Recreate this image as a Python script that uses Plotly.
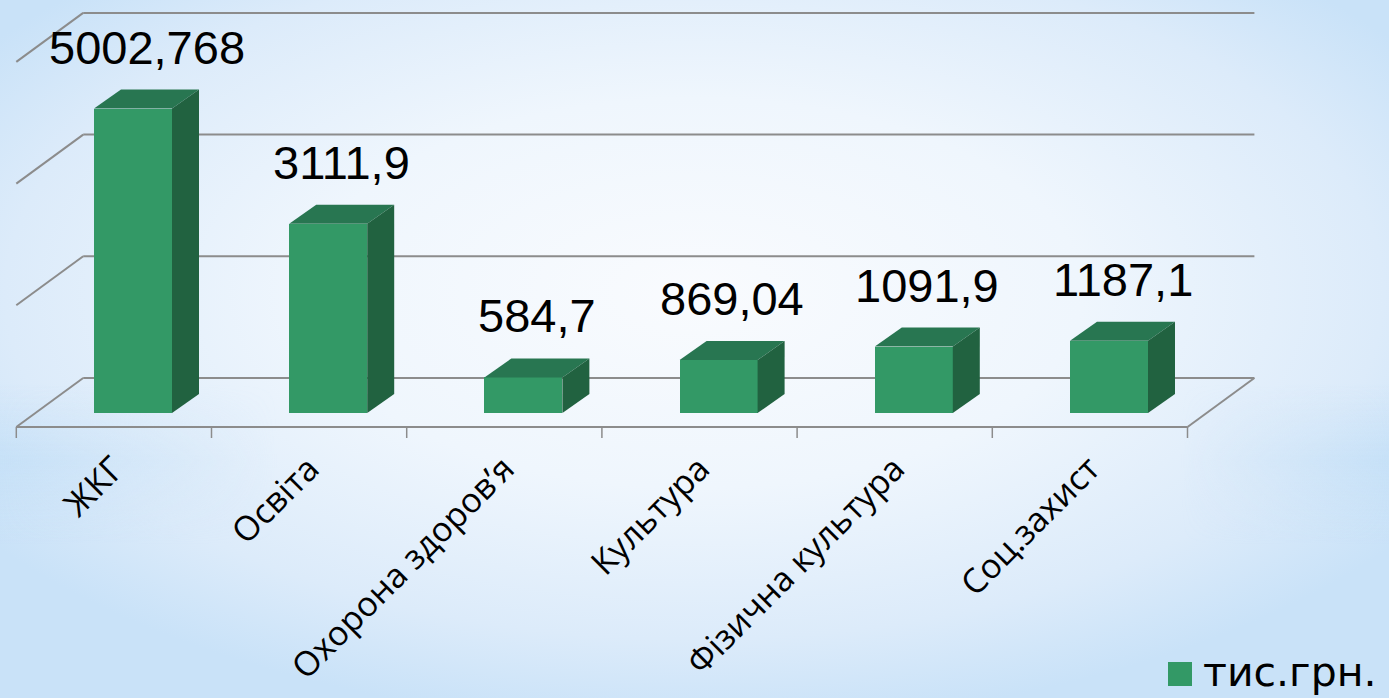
import base64
import plotly.graph_objects as go

# ---------------- data ----------------
categories = ["ЖКГ", "Освіта", "Охорона здоров’я", "Культура", "Фізична культура", "Соц.захист"]
values = [5002.768, 3111.9, 584.7, 869.04, 1091.9, 1187.1]
value_labels = ["5002,768", "3111,9", "584,7", "869,04", "1091,9", "1187,1"]
grid_values = [0, 2000, 4000, 6000]
series_name = "тис.грн."

# ---------------- geometry (pixels) ----------------
W, H = 1389, 698
PX_PER_CAT = 195.2          # px per category
PX_PER_VAL = 121.7 / 2000   # px per value unit
X0_PX = 133.0               # pixel x of category 0 (bar plane)
Y0_PX = 413.0               # pixel y of value 0 (bar plane)

def dxp(px):
    return px / PX_PER_CAT

def dyp(px):
    return px / PX_PER_VAL

x_range = [-X0_PX / PX_PER_CAT, (W - X0_PX) / PX_PER_CAT]
y_range = [-(H - Y0_PX) / PX_PER_VAL, Y0_PX / PX_PER_VAL]

# plane offsets (relative to bar plane)
BX, BY = dxp(47.8), dyp(35)     # back wall
FX, FY = dxp(-19.1), dyp(-14)   # front edge of floor
DX, DY = dxp(27), dyp(19)       # bar depth
BAR_W = dxp(78)

FRONT = "#339966"
TOP = "#287651"
SIDE = "#216240"
GRID = "#8c8c8c"

n = len(categories)
idx = list(range(n))

fig = go.Figure()
fig.add_trace(go.Bar(
    x=idx, y=values, width=BAR_W, base=0,
    marker=dict(color=FRONT, line=dict(width=0)),
    name=series_name, showlegend=False, hoverinfo="skip",
))

shapes = []
# back wall gridlines + left wall diagonals
left_b, right_b = -0.5 + BX, (n - 0.5) + BX
left_f, right_f = -0.5 + FX, (n - 0.5) + FX
for g in grid_values:
    shapes.append(dict(type="line", xref="x", yref="y", layer="below",
                       x0=left_b, x1=right_b, y0=g + BY, y1=g + BY,
                       line=dict(color=GRID, width=2)))
    shapes.append(dict(type="line", xref="x", yref="y", layer="below",
                       x0=left_f, x1=left_b, y0=g + FY, y1=g + BY,
                       line=dict(color=GRID, width=2)))
# floor front edge and right diagonal
shapes.append(dict(type="line", xref="x", yref="y", layer="below",
                   x0=left_f, x1=right_f, y0=FY, y1=FY,
                   line=dict(color=GRID, width=2)))
shapes.append(dict(type="line", xref="x", yref="y", layer="below",
                   x0=right_f, x1=right_b, y0=FY, y1=BY,
                   line=dict(color=GRID, width=2)))
# category boundary ticks on the front edge
for k in range(n + 1):
    xk = k - 0.5 + FX
    shapes.append(dict(type="line", xref="x", yref="y", layer="below",
                       x0=xk, x1=xk, y0=FY, y1=FY - dyp(11),
                       line=dict(color=GRID, width=1.5)))

# 3D faces of bars
for i, v in zip(idx, values):
    xl, xr = i - BAR_W / 2, i + BAR_W / 2
    top = (f"M{xl},{v} L{xr},{v} L{xr + DX},{v + DY} L{xl + DX},{v + DY} Z")
    side = (f"M{xr},{0} L{xr + DX},{DY} L{xr + DX},{v + DY} L{xr},{v} Z")
    shapes.append(dict(type="path", xref="x", yref="y", path=top,
                       fillcolor=TOP, line=dict(width=0), layer="above"))
    shapes.append(dict(type="path", xref="x", yref="y", path=side,
                       fillcolor=SIDE, line=dict(width=0), layer="above"))

# legend (manual)
shapes.append(dict(type="rect", xref="paper", yref="paper",
                   x0=1168 / W, x1=1192 / W, y0=1 - 686 / H, y1=1 - 662 / H,
                   fillcolor=FRONT, line=dict(width=0)))

annotations = []
for i, v, lab in zip(idx, values, value_labels):
    annotations.append(dict(x=i + DX / 2, y=v, xref="x", yref="y",
                            text=lab, showarrow=False, xanchor="center",
                            yanchor="bottom", yshift=33,
                            font=dict(family="Liberation Sans", size=47, color="#000000")))
annotations.append(dict(x=1201 / W, y=1 - 672 / H, xref="paper", yref="paper",
                        text=series_name, showarrow=False, xanchor="left",
                        yanchor="middle",
                        font=dict(family="DejaVu Sans", size=41, color="#000000")))

# background gradient as svg image
svg = f"""<svg xmlns='http://www.w3.org/2000/svg' width='{W}' height='{H}' viewBox='0 0 {W} {H}' preserveAspectRatio='none'>
<defs>
<radialGradient id='g' cx='0.5' cy='0.42' r='0.62'>
<stop offset='0' stop-color='#f9fbfe'/>
<stop offset='0.45' stop-color='#eff6fd'/>
<stop offset='0.8' stop-color='#dcebfa'/>
<stop offset='1' stop-color='#c9e2f8'/>
</radialGradient>
<linearGradient id='b' x1='0' y1='0' x2='0' y2='1'>
<stop offset='0.55' stop-color='#bcdcf6' stop-opacity='0'/>
<stop offset='0.66' stop-color='#bcdcf6' stop-opacity='0.55'/>
<stop offset='0.78' stop-color='#bcdcf6' stop-opacity='0'/>
</linearGradient>
<linearGradient id='m' x1='0' y1='0' x2='1' y2='0'>
<stop offset='0' stop-color='#fff' stop-opacity='1'/>
<stop offset='0.2' stop-color='#fff' stop-opacity='0'/>
<stop offset='0.85' stop-color='#fff' stop-opacity='0'/>
<stop offset='1' stop-color='#fff' stop-opacity='1'/>
</linearGradient>
<mask id='mk'><rect width='{W}' height='{H}' fill='url(#m)'/></mask>
</defs>
<rect width='{W}' height='{H}' fill='url(#g)'/>
<rect width='{W}' height='{H}' fill='url(#b)' mask='url(#mk)'/>
</svg>"""
src = "data:image/svg+xml;base64," + base64.b64encode(svg.encode("utf-8")).decode("ascii")

fig.update_layout(
    width=W, height=H,
    margin=dict(l=0, r=0, t=0, b=0, autoexpand=False),
    paper_bgcolor="#eef5fd",
    plot_bgcolor="rgba(0,0,0,0)",
    shapes=shapes,
    annotations=annotations,
    images=[dict(source=src, xref="paper", yref="paper", x=0, y=1,
                 sizex=1, sizey=1, sizing="stretch", layer="below",
                 xanchor="left", yanchor="top")],
    showlegend=False,
    bargap=0,
    xaxis=dict(range=x_range, anchor="free", position=(H - (Y0_PX + 14)) / H,
               automargin=False,
               tickmode="array", tickvals=[i + FX for i in idx], ticktext=categories,
               tickangle=-45, ticks="", showline=False, showgrid=False, zeroline=False,
               ticklabelstandoff=14,
               tickfont=dict(family="Open Sans", size=34, color="#000000"),
               fixedrange=True),
    yaxis=dict(range=y_range, visible=False, showgrid=False, zeroline=False,
               automargin=False, fixedrange=True),
)

fig.write_html("out.html", config={"displayModeBar": False})
